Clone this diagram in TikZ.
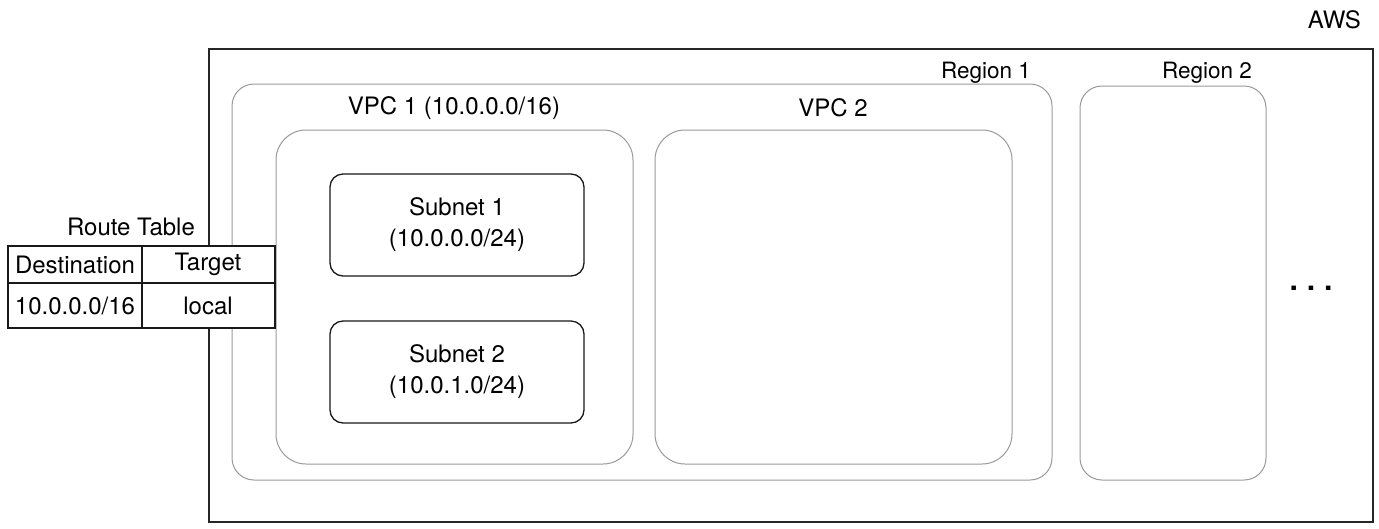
\documentclass[tikz,border=0pt]{standalone}
\usepackage{fontspec}
\setmainfont{TeX Gyre Heros}
\begin{document}
\begin{tikzpicture}[x=1pt,y=-1pt,
  lbl/.style={font=\fontsize{24}{28}\selectfont, inner sep=0pt},
  small/.style={font=\fontsize{22.5}{26}\selectfont, inner sep=0pt},
  aws/.style={draw=black!85, line width=1.3pt},
  grp/.style={draw=black!40, line width=1pt},
  subnetbox/.style={draw=black!90, line width=1.3pt, rounded corners=13pt, align=center, font=\fontsize{24}{31}\selectfont},
  cell/.style={draw=black!90, line width=2pt, fill=white, font=\fontsize{24}{28}\selectfont}
]
\useasboundingbox (0,0) rectangle (1379,528);
% AWS
\draw[aws] (209,49) rectangle (1373,522);
\node[lbl, anchor=east] (awsl) at (1361,20) {AWS};
% Regions
\draw[grp, rounded corners=22pt] (232,84) rectangle (1052,480);
\node[small] (r1l) at (986,73) {Region 1};
\draw[grp, rounded corners=22pt] (1080,86) rectangle (1266,480);
\node[small] (r2l) at (1207,73) {Region 2};
% VPCs
\draw[grp, rounded corners=30pt] (276,130) rectangle (633,464);
\node[lbl] (v1l) at (454,108) {VPC 1 (10.0.0.0/16)};
\draw[grp, rounded corners=30pt] (655,130) rectangle (1012,464);
\node[lbl] (v2l) at (833,108) {VPC 2};
% Subnets
\node[subnetbox, minimum width=254pt, minimum height=102pt] (s1) at (457,225) {Subnet 1\\(10.0.0.0/24)};
\node[subnetbox, minimum width=254pt, minimum height=102pt] (s2) at (457,372) {Subnet 2\\(10.0.1.0/24)};
% ellipsis
\node[font=\fontsize{30}{30}\selectfont\bfseries, inner sep=0pt] (dots) at (1311,288) {.\hspace{9pt}.\hspace{9pt}.};
% Route table
\node[lbl] (rtl) at (131,227) {Route Table};
\node[cell, minimum width=134pt, minimum height=37pt] (c11) at (75,264.5) {Destination};
\node[cell, minimum width=133pt, minimum height=37pt] (c12) at (208,264.5) {Target};
\node[cell, minimum width=134pt, minimum height=45pt] (c21) at (75,305.5) {10.0.0.0/16};
\node[cell, minimum width=133pt, minimum height=45pt] (c22) at (208,305.5) {local};
\end{tikzpicture}
\end{document}
